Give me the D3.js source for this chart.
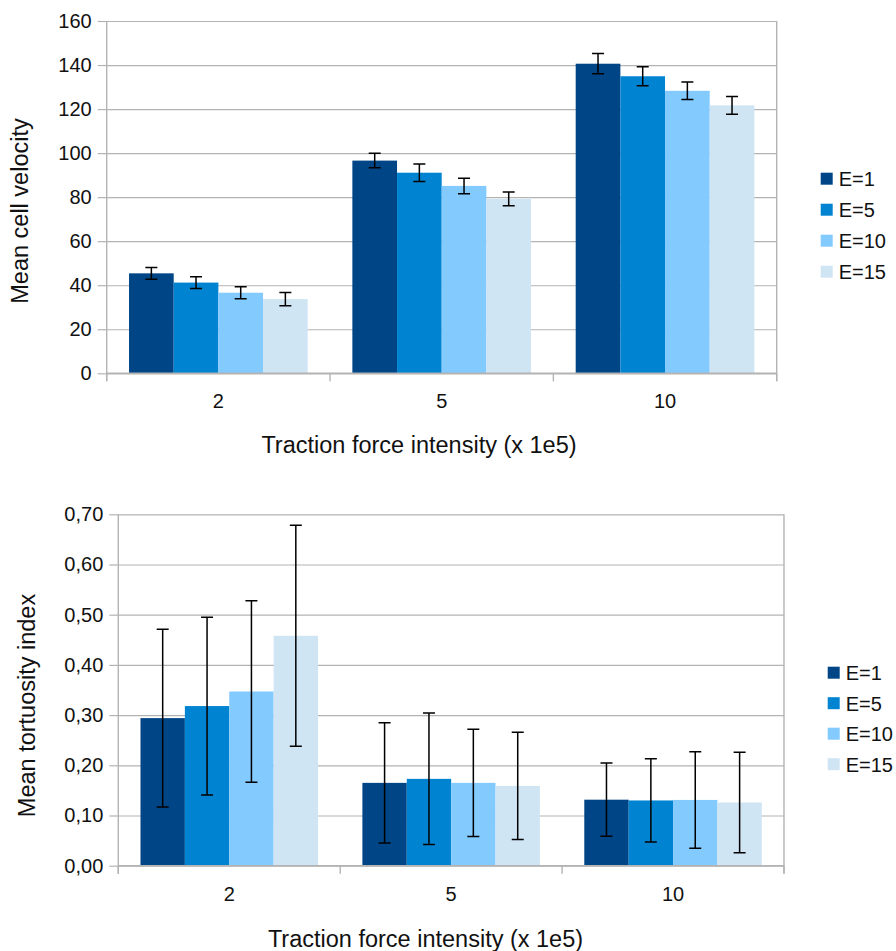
<!DOCTYPE html>
<html>
<head>
<meta charset="utf-8">
<script src="https://cdn.jsdelivr.net/npm/d3@7"></script>
<style>
  html, body { margin: 0; padding: 0; background: #fff; }
  svg { display: block; font-family: "Liberation Sans", Arial, sans-serif; }
</style>
</head>
<body>
<svg id="chart" width="896" height="951"></svg>
<script>
// ---------- data ----------
const categories = ["2", "5", "10"];
const series = ["E=1", "E=5", "E=10", "E=15"];
const colors = ["#004586", "#0084d1", "#83caff", "#d0e5f4"];

// Mean cell velocity (per series, per category)
const velE1  = [45.4, 96.6, 140.6];
const velE5  = [41.2, 91.1, 134.9];
const velE10 = [36.6, 85.1, 128.3];
const velE15 = [33.7, 79.2, 121.7];
const velErrE1  = [2.7, 3.3, 4.6];
const velErrE5  = [2.7, 4.0, 4.3];
const velErrE10 = [2.7, 3.5, 4.0];
const velErrE15 = [3.0, 3.1, 4.0];

// Mean tortuosity index
const tortE1  = [0.294, 0.165, 0.1315];
const tortE5  = [0.318, 0.173, 0.130];
const tortE10 = [0.347, 0.165, 0.131];
const tortE15 = [0.458, 0.159, 0.126];
const tortErrE1  = [0.177, 0.120, 0.073];
const tortErrE5  = [0.177, 0.131, 0.083];
const tortErrE10 = [0.181, 0.107, 0.096];
const tortErrE15 = [0.220, 0.107, 0.100];

const velTicks = [0, 20, 40, 60, 80, 100, 120, 140, 160];
const velTickLabels = ["0", "20", "40", "60", "80", "100", "120", "140", "160"];
const tortTicks = [0, 0.1, 0.2, 0.3, 0.4, 0.5, 0.6, 0.7];
const tortTickLabels = ["0,00", "0,10", "0,20", "0,30", "0,40", "0,50", "0,60", "0,70"];

const xTitle = "Traction force intensity (x 1e5)";

// ---------- drawing ----------
const svg = d3.select("#chart");
const GRID = "#b3b3b3";
const TXT = "#111";

function drawChart(cfg) {
  const { left, right, top, bottom, yMax, ticks, tickLabels, values, errors,
          yTitle, yTitleX, yTitleY, xTitleX, xTitleY, legX, legY, legStep } = cfg;
  const g = svg.append("g");

  const x0 = d3.scaleBand().domain(categories).range([left, right]).padding(0);
  const x1 = d3.scaleBand().domain(series).range([0, x0.bandwidth()])
               .paddingInner(0).paddingOuter(0.5);
  const y = d3.scaleLinear().domain([0, yMax]).range([bottom, top]);

  // gridlines
  g.append("g")
    .attr("transform", `translate(${left},0)`)
    .call(d3.axisLeft(y).tickValues(ticks).tickSize(-(right - left)).tickFormat(""))
    .call(s => s.select(".domain").remove())
    .call(s => s.selectAll("line").attr("stroke", GRID).attr("stroke-width", 1.2));

  // right border
  g.append("line").attr("x1", right).attr("x2", right)
    .attr("y1", y(yMax)).attr("y2", y(0) + 8)
    .attr("stroke", GRID).attr("stroke-width", 1.4);

  // bars
  const data = [];
  series.forEach((s, si) => categories.forEach((c, ci) => {
    data.push({ s, si, c, v: values[si][ci], e: errors[si][ci] });
  }));

  g.append("g").selectAll("rect").data(data).join("rect")
    .attr("x", d => x0(d.c) + x1(d.s))
    .attr("width", x1.bandwidth())
    .attr("y", d => y(d.v))
    .attr("height", d => y(0) - y(d.v))
    .attr("fill", d => colors[d.si]);

  // y axis
  g.append("g")
    .attr("transform", `translate(${left},0)`)
    .call(d3.axisLeft(y).tickValues(ticks).tickSize(9).tickPadding(6)
            .tickFormat((d, i) => tickLabels[i]))
    .call(s => s.select(".domain").attr("stroke", GRID).attr("stroke-width", 1.4)
                 .attr("d", `M0,${y(yMax)}V${y(0) + 8}`))
    .call(s => s.selectAll(".tick line").attr("stroke", GRID).attr("stroke-width", 1.2))
    .call(s => s.selectAll(".tick text").attr("fill", TXT)
                 .style("font-size", "20px").style("font-family", "Liberation Sans, Arial, sans-serif"));

  // x axis baseline + boundary ticks
  g.append("line").attr("x1", left).attr("x2", right)
    .attr("y1", y(0)).attr("y2", y(0)).attr("stroke", GRID).attr("stroke-width", 1.4);
  const bounds = categories.map(c => x0(c)).concat([x0(categories[categories.length - 1]) + x0.bandwidth()]);
  g.append("g").selectAll("line").data(bounds).join("line")
    .attr("x1", d => d).attr("x2", d => d)
    .attr("y1", y(0)).attr("y2", y(0) + 8)
    .attr("stroke", GRID).attr("stroke-width", 1.4);

  // x category labels
  g.append("g").selectAll("text").data(categories).join("text")
    .attr("x", d => x0(d) + x0.bandwidth() / 2)
    .attr("y", y(0) + 35)
    .attr("text-anchor", "middle")
    .attr("fill", TXT).style("font-size", "20px")
    .text(d => d);

  // error bars
  const eb = g.append("g").attr("stroke", "#000").attr("stroke-width", 1.5).attr("fill", "none");
  data.forEach(d => {
    const cx = x0(d.c) + x1(d.s) + x1.bandwidth() / 2;
    const yt = y(d.v + d.e), yb = y(d.v - d.e);
    eb.append("path").attr("d",
      `M${cx},${yt}V${yb}M${cx - 6},${yt}H${cx + 6}M${cx - 6},${yb}H${cx + 6}`);
  });

  // titles
  g.append("text")
    .attr("transform", `translate(${yTitleX},${yTitleY}) rotate(-90)`)
    .attr("text-anchor", "middle").attr("fill", TXT).style("font-size", "23.5px")
    .text(yTitle);
  g.append("text")
    .attr("x", xTitleX).attr("y", xTitleY)
    .attr("text-anchor", "middle").attr("fill", TXT).style("font-size", "23.5px")
    .text(xTitle);

  // legend
  const leg = g.append("g");
  series.forEach((s, i) => {
    const yy = legY + i * legStep;
    leg.append("rect").attr("x", legX).attr("y", yy).attr("width", 12).attr("height", 12)
      .attr("fill", colors[i]);
    leg.append("text").attr("x", legX + 18).attr("y", yy + 13.5)
      .attr("fill", TXT).style("font-size", "20px").text(s);
  });
}

drawChart({
  left: 106.7, right: 776.7, top: 21, bottom: 373.3, yMax: 160,
  ticks: velTicks, tickLabels: velTickLabels,
  values: [velE1, velE5, velE10, velE15],
  errors: [velErrE1, velErrE5, velErrE10, velErrE15],
  yTitle: "Mean cell velocity", yTitleX: 28.3, yTitleY: 211,
  xTitleX: 419, xTitleY: 452.7,
  legX: 820.7, legY: 172.7, legStep: 31
});

drawChart({
  left: 118.3, right: 784, top: 514.3, bottom: 865.7, yMax: 0.7,
  ticks: tortTicks, tickLabels: tortTickLabels,
  values: [tortE1, tortE5, tortE10, tortE15],
  errors: [tortErrE1, tortErrE5, tortErrE10, tortErrE15],
  yTitle: "Mean tortuosity index", yTitleX: 35, yTitleY: 705.5,
  xTitleX: 425.5, xTitleY: 947,
  legX: 827.7, legY: 666.7, legStep: 30.5
});
</script>
</body>
</html>
